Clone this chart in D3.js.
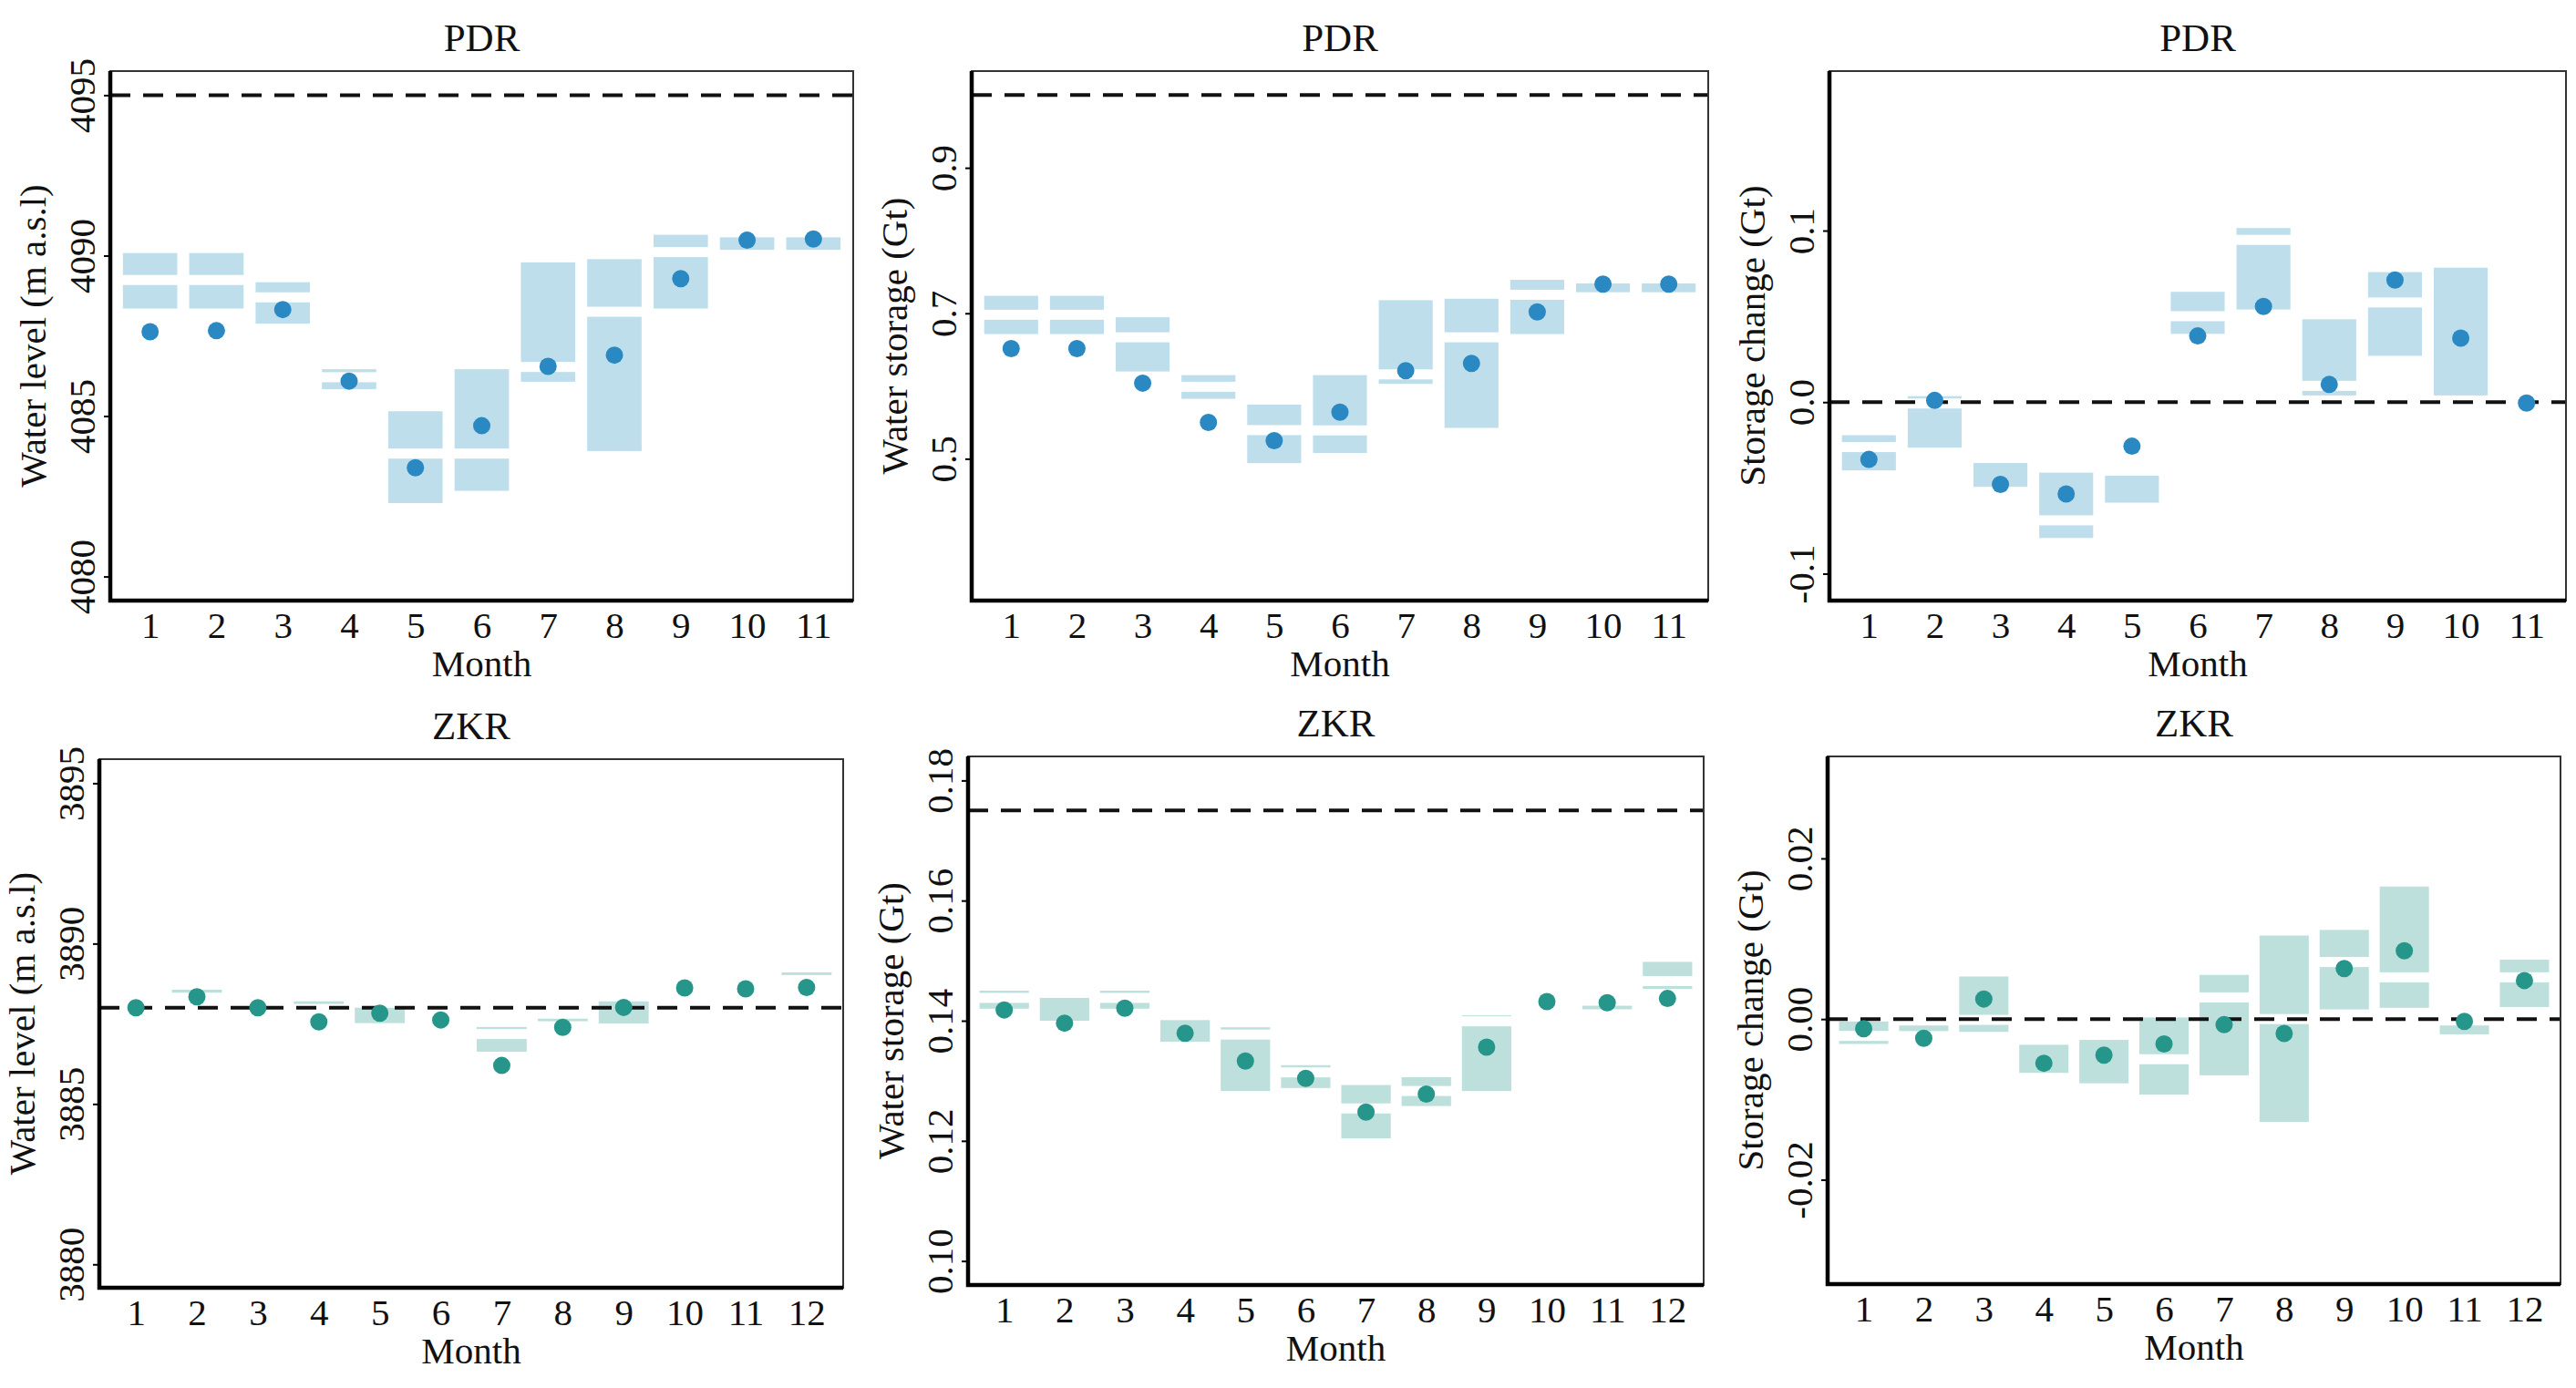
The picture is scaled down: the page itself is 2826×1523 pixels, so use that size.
<!DOCTYPE html>
<html>
<head>
<meta charset="utf-8">
<script src="https://cdn.jsdelivr.net/npm/d3@7"></script>
<style>
  body { margin: 0; background: #fff; }
  svg text { font-family: "Liberation Serif", "DejaVu Serif", serif !important; fill: #111; }
</style>
</head>
<body>
<script>
// months
const pdrMonths = [1, 2, 3, 4, 5, 6, 7, 8, 9, 10, 11];
const zkrMonths = [1, 2, 3, 4, 5, 6, 7, 8, 9, 10, 11, 12];

// PDR water level (m a.s.l)
const pdrLevelLo  = [4088.35, 4088.35, 4087.88, 4085.84, 4082.29, 4082.67, 4086.07, 4083.91, 4088.35, 4090.18, 4090.18];
const pdrLevelHi  = [4090.08, 4090.08, 4089.17, 4086.46, 4085.15, 4086.46, 4089.79, 4089.89, 4090.65, 4090.57, 4090.57];
const pdrLevelMed = [4089.24, 4089.24, 4088.70, 4086.21, 4083.83, 4083.83, 4086.53, 4088.25, 4090.11, null, null];
const pdrLevelPt  = [4087.63, 4087.66, 4088.32, 4086.09, 4083.39, 4084.70, 4086.55, 4086.90, 4089.28, 4090.48, 4090.52];

// PDR water storage (Gt)
const pdrStoreLo  = [0.6715, 0.6715, 0.620, 0.5824, 0.494, 0.508, 0.603, 0.5424, 0.6715, 0.729, 0.729];
const pdrStoreHi  = [0.724, 0.724, 0.6945, 0.615, 0.5745, 0.615, 0.718, 0.720, 0.746, 0.741, 0.741];
const pdrStoreMed = [0.698, 0.698, 0.667, 0.599, 0.5394, 0.539, 0.616, 0.667, 0.7255, null, null];
const pdrStorePt  = [0.6515, 0.6515, 0.604, 0.550, 0.525, 0.564, 0.621, 0.631, 0.702, 0.740, 0.740];

// PDR storage change (Gt)
const pdrChangeLo  = [-0.0398, -0.0265, -0.0494, -0.0792, -0.0586, 0.0398, 0.054, 0.0039, 0.027, 0.0039, null];
const pdrChangeHi  = [-0.0193, 0.0035, -0.0355, -0.0411, -0.0429, 0.0643, 0.1015, 0.0483, 0.0758, 0.0784, null];
const pdrChangeMed = [-0.0262, -0.0008, null, -0.0689, null, 0.0501, 0.0946, 0.0095, 0.0581, null, null];
const pdrChangePt  = [-0.0334, 0.001, -0.048, -0.0535, -0.0257, 0.0386, 0.0558, 0.0103, 0.0712, 0.0373, -0.0005];

// ZKR water level (m a.s.l)
const zkrLevelLo  = [null, 3888.47, null, 3888.12, 3887.52, null, 3886.63, 3887.58, 3887.51, null, null, 3889.02];
const zkrLevelHi  = [null, 3888.56, null, 3888.20, 3888.0, null, 3887.40, 3887.66, 3888.2, null, null, 3889.10];
const zkrLevelMed = [null, null, null, null, null, null, 3887.18, null, null, null, null, null];
const zkrLevelPt  = [3888.0, 3888.34, 3888.0, 3887.56, 3887.83, 3887.62, 3886.2, 3887.39, 3888.01, 3888.62, 3888.59, 3888.63];

// ZKR water storage (Gt)
const zkrStoreLo  = [0.1420, 0.1400, 0.1420, 0.1365, 0.1283, 0.1288, 0.1204, 0.1258, 0.1283, null, 0.1419, 0.1453];
const zkrStoreHi  = [0.1450, 0.1438, 0.1450, 0.1401, 0.1389, 0.1326, 0.1293, 0.1306, 0.1409, null, 0.1425, 0.1498];
const zkrStoreMed = [0.1438, null, 0.1438, null, 0.1377, 0.1314, 0.1254, 0.1283, 0.1399, null, null, 0.1466];
const zkrStorePt  = [0.1418, 0.1396, 0.1421, 0.1379, 0.1333, 0.1304, 0.1248, 0.1278, 0.1356, 0.1432, 0.1430, 0.1437];

// ZKR storage change (Gt)
const zkrChangeLo  = [-0.0031, -0.0015, -0.0016, -0.0067, -0.008, -0.0094, -0.007, -0.0128, 0.0012, 0.0014, -0.0019, 0.0015];
const zkrChangeHi  = [-0.0003, -0.0008, 0.0053, -0.0032, -0.0026, 0.0002, 0.0055, 0.0104, 0.0111, 0.0165, -0.0008, 0.0074];
const zkrChangeMed = [-0.0021, null, -0.0001, null, null, -0.005, 0.0027, 0.0, 0.0071, 0.0052, null, 0.0052];
const zkrChangePt  = [-0.0012, -0.0024, 0.0025, -0.0055, -0.0045, -0.0031, -0.0007, -0.0018, 0.0063, 0.0085, -0.0003, 0.0048];

// axis ticks
const levelTicksPdr = [4080, 4085, 4090, 4095];
const storeTicksPdr = [0.5, 0.7, 0.9];
const changeTicksPdr = [-0.1, 0.0, 0.1];
const levelTicksZkr = [3880, 3885, 3890, 3895];
const storeTicksZkr = [0.10, 0.12, 0.14, 0.16, 0.18];
const changeTicksZkr = [-0.02, 0.00, 0.02];

const pdrFill = "#bedeec", pdrDot = "#2a88c2";
const zkrFill = "#bde0dc", zkrDot = "#26958a";

const FONT = "'Liberation Serif', 'DejaVu Serif', serif";
const FS = 41;

const W = 2826, H = 1523;
const svg = d3.select("body").append("svg")
  .attr("width", W).attr("height", H)
  .attr("font-family", FONT);
svg.append("rect").attr("width", W).attr("height", H).attr("fill", "#fff");

const panels = [
  { title: "PDR", ylab: "Water level (m a.s.l)", months: pdrMonths, lo: pdrLevelLo, hi: pdrLevelHi, med: pdrLevelMed, pt: pdrLevelPt,
    domain: [4079.25, 4095.75], ticks: levelTicksPdr, fmt: d3.format("d"), ref: 4095, fill: pdrFill, dot: pdrDot,
    x: 121, y: 78, w: 815, h: 581 },
  { title: "PDR", ylab: "Water storage (Gt)", months: pdrMonths, lo: pdrStoreLo, hi: pdrStoreHi, med: pdrStoreMed, pt: pdrStorePt,
    domain: [0.305, 1.033], ticks: storeTicksPdr, fmt: d3.format(".1f"), ref: 1.0, fill: pdrFill, dot: pdrDot,
    x: 1066, y: 78, w: 808, h: 581 },
  { title: "PDR", ylab: "Storage change (Gt)", months: pdrMonths, lo: pdrChangeLo, hi: pdrChangeHi, med: pdrChangeMed, pt: pdrChangePt,
    domain: [-0.1157, 0.193], ticks: changeTicksPdr, fmt: d => d3.format(".1f")(d).replace("−", "-"), ref: 0, fill: pdrFill, dot: pdrDot,
    x: 2007, y: 78, w: 808, h: 581 },
  { title: "ZKR", ylab: "Water level (m a.s.l)", months: zkrMonths, lo: zkrLevelLo, hi: zkrLevelHi, med: zkrLevelMed, pt: zkrLevelPt,
    domain: [3879.27, 3895.75], ticks: levelTicksZkr, fmt: d3.format("d"), ref: 3888, fill: zkrFill, dot: zkrDot,
    x: 109, y: 833, w: 816, h: 580 },
  { title: "ZKR", ylab: "Water storage (Gt)", months: zkrMonths, lo: zkrStoreLo, hi: zkrStoreHi, med: zkrStoreMed, pt: zkrStorePt,
    domain: [0.096, 0.184], ticks: storeTicksZkr, fmt: d3.format(".2f"), ref: 0.175, fill: zkrFill, dot: zkrDot,
    x: 1062, y: 830, w: 807, h: 580 },
  { title: "ZKR", ylab: "Storage change (Gt)", months: zkrMonths, lo: zkrChangeLo, hi: zkrChangeHi, med: zkrChangeMed, pt: zkrChangePt,
    domain: [-0.033, 0.0327], ticks: changeTicksZkr, fmt: d => d3.format(".2f")(d).replace("−", "-"), ref: 0, fill: zkrFill, dot: zkrDot,
    x: 2005, y: 830, w: 804, h: 579 }
];

panels.forEach(p => {
  const g = svg.append("g").attr("transform", `translate(${p.x},${p.y})`);
  const x = d3.scalePoint().domain(p.months).range([0, p.w]).padding(0.6);
  const y = d3.scaleLinear().domain(p.domain).range([p.h, 0]);
  const bw = x.step() * 0.82;

  const rows = p.months.map((m, i) => ({ m, lo: p.lo[i], hi: p.hi[i], med: p.med[i], pt: p.pt[i] }));

  // boxes
  g.selectAll("rect.box")
    .data(rows.filter(d => d.lo != null))
    .enter()
    .append("rect")
    .attr("class", "box")
    .attr("x", d => x(d.m) - bw / 2)
    .attr("y", d => y(d.hi))
    .attr("width", bw)
    .attr("height", d => Math.max(2, y(d.lo) - y(d.hi)))
    .attr("fill", p.fill);

  // white median band
  const half = 5.5;
  g.selectAll("rect.med")
    .data(rows.filter(d => d.lo != null && d.med != null))
    .enter()
    .append("rect")
    .attr("class", "med")
    .attr("x", d => x(d.m) - bw / 2 - 1)
    .attr("y", d => Math.max(y(d.med) - half, y(d.hi)))
    .attr("width", bw + 2)
    .attr("height", d => Math.max(0, Math.min(y(d.med) + half, y(d.lo)) - Math.max(y(d.med) - half, y(d.hi))))
    .attr("fill", "#fff");

  // reference line
  g.append("line")
    .attr("x1", 0).attr("x2", p.w)
    .attr("y1", y(p.ref)).attr("y2", y(p.ref))
    .attr("stroke", "#111").attr("stroke-width", 4)
    .attr("stroke-dasharray", "22,14");

  // points
  g.selectAll("circle")
    .data(rows)
    .enter()
    .append("circle")
    .attr("cx", d => x(d.m))
    .attr("cy", d => y(d.pt))
    .attr("r", 9.5)
    .attr("fill", p.dot);

  // frame
  g.append("rect")
    .attr("width", p.w).attr("height", p.h)
    .attr("fill", "none").attr("stroke", "#333").attr("stroke-width", 2);
  g.append("path")
    .attr("d", `M0,0V${p.h}H${p.w}`)
    .attr("fill", "none").attr("stroke", "#000").attr("stroke-width", 4.5);

  // y axis
  const ya = g.append("g")
    .call(d3.axisLeft(y).tickValues(p.ticks).tickSize(7).tickFormat(p.fmt))
    .attr("font-family", FONT).attr("font-size", FS);
  ya.select(".domain").remove();
  ya.selectAll(".tick line").attr("stroke", "#000").attr("stroke-width", 2);
  ya.selectAll(".tick text")
    .attr("x", 0).attr("y", 0).attr("dy", "0.35em")
    .attr("transform", "translate(-31,0) rotate(-90)")
    .attr("text-anchor", "middle")
    .attr("fill", "#111");

  // x axis
  const xa = g.append("g")
    .attr("transform", `translate(0,${p.h})`)
    .call(d3.axisBottom(x).tickSize(0))
    .attr("font-family", FONT).attr("font-size", FS);
  xa.select(".domain").remove();
  xa.selectAll(".tick text")
    .attr("y", 27).attr("dy", "0.35em")
    .attr("fill", "#111");

  // labels
  g.append("text")
    .attr("x", p.w / 2).attr("y", p.h + 69).attr("dy", "0.35em")
    .attr("text-anchor", "middle").attr("font-size", FS)
    .text("Month");
  g.append("text")
    .attr("transform", `translate(-85,${p.h / 2}) rotate(-90)`)
    .attr("dy", "0.35em")
    .attr("text-anchor", "middle").attr("font-size", FS)
    .text(p.ylab);
  g.append("text")
    .attr("x", p.w / 2).attr("y", -37).attr("dy", "0.35em")
    .attr("text-anchor", "middle").attr("font-size", 43)
    .text(p.title);
});
</script>
</body>
</html>
